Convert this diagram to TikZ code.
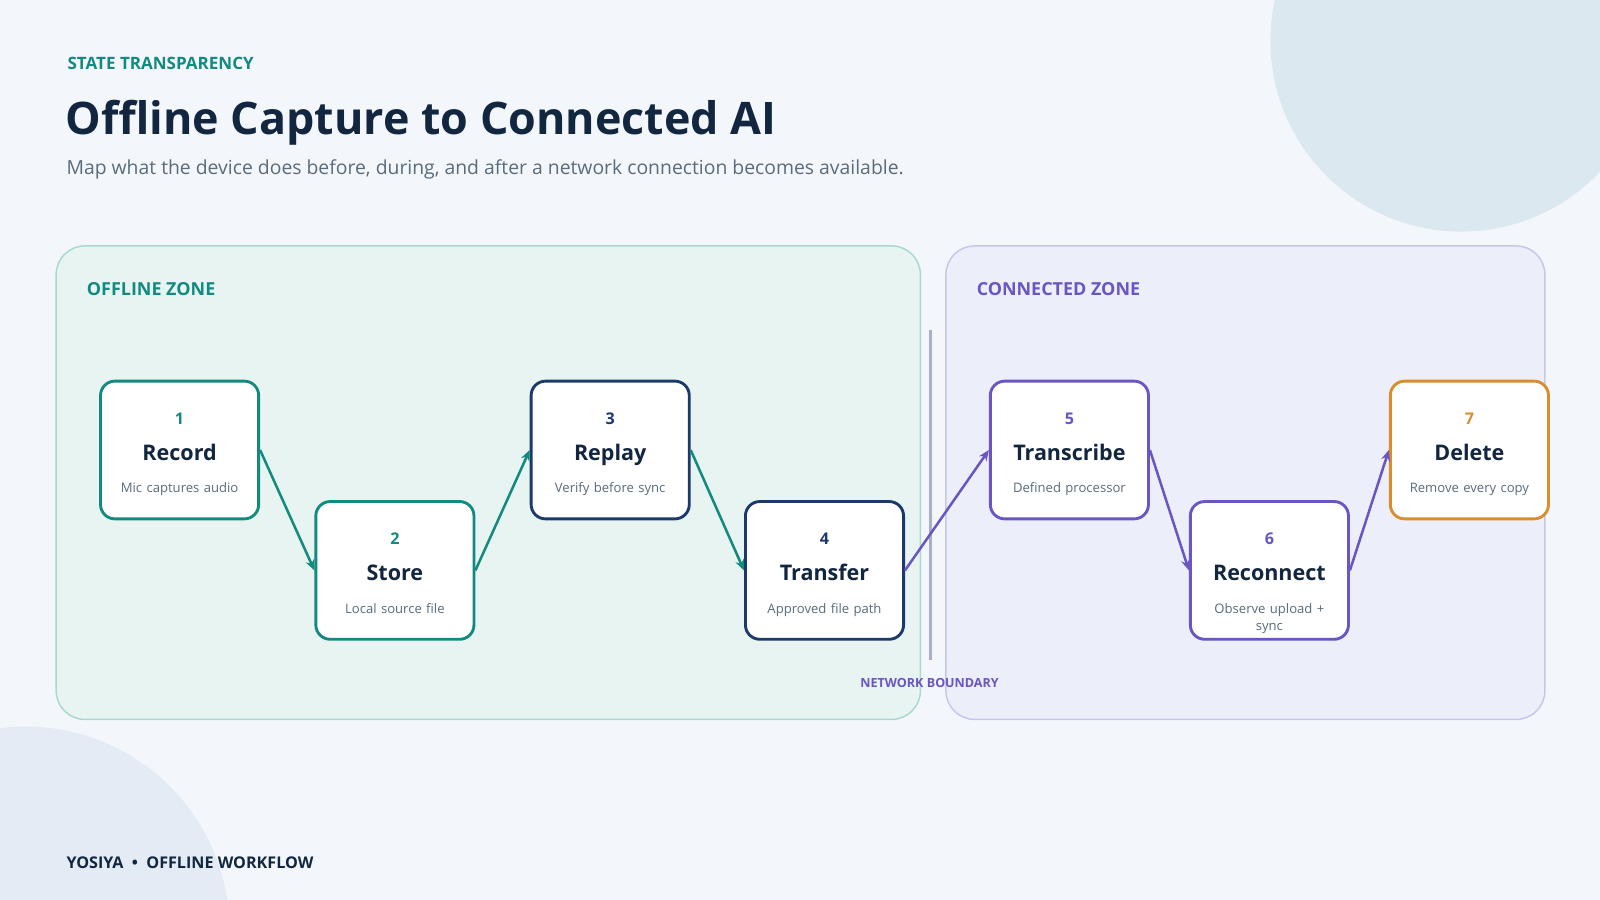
\documentclass[tikz,border=0pt]{standalone}
\usepackage{fontspec}
\setmainfont{Open Sans}
\usetikzlibrary{arrows.meta}
\definecolor{bg}{HTML}{F3F7FB}
\definecolor{teal}{HTML}{138A80}
\definecolor{navy}{HTML}{12263F}
\definecolor{nblue}{HTML}{1B3A6B}
\definecolor{purp}{HTML}{6A55C2}
\definecolor{orng}{HTML}{D98E2B}
\definecolor{grayt}{HTML}{5A6B7B}
\definecolor{circA}{HTML}{DCE8F0}
\definecolor{circB}{HTML}{E3ECF4}
\definecolor{offF}{HTML}{E8F4F1}
\definecolor{offD}{HTML}{A8D8D0}
\definecolor{conF}{HTML}{ECEFFA}
\definecolor{conD}{HTML}{C6C5EC}
\definecolor{bndry}{HTML}{A9AECB}
\begin{document}
\begin{tikzpicture}[x=0.02cm,y=-0.02cm,
 step/.style={draw=#1,line width=1.6pt,fill=white,rounded corners=8pt,minimum width=3.1cm,minimum height=2.7cm,inner sep=0pt},
 num/.style={font=\bfseries\fontsize{9}{10}\selectfont},
 ttl/.style={font=\bfseries\fontsize{12}{14}\selectfont,text=navy,anchor=base},
 sub/.style={font=\fontsize{7.3}{9.5}\selectfont,text=grayt,align=center,text width=2.7cm},
 arr/.style={draw=#1,line width=1.4pt,-{Stealth[length=6pt,width=5pt]}},
 zl/.style={font=\bfseries\fontsize{10}{12}\selectfont,anchor=west}]
\useasboundingbox (0,0) rectangle (1568,882);
\fill[bg] (0,0) rectangle (1568,882);
\begin{scope}
\clip (0,0) rectangle (1568,882);
\fill[circA] (1432,40) circle (187);
\fill[circB] (25,912) circle (200);
\end{scope}
\node[anchor=west,text=teal,font=\bfseries\fontsize{9.5}{12}\selectfont] (kick) at (60,62) {STATE TRANSPARENCY};
\node[anchor=west,text=navy,font=\bfseries\fontsize{25}{30}\selectfont] (title) at (58,120) {Offline Capture to Connected AI};
\node[anchor=west,text=grayt,font=\fontsize{10.8}{13}\selectfont] (subt) at (59,166) {Map what the device does before, during, and after a network connection becomes available.};
\draw[rounded corners=16pt,fill=offF,draw=offD,line width=0.8pt] (55,241) rectangle (902,705);
\draw[rounded corners=16pt,fill=conF,draw=conD,line width=0.8pt] (927,241) rectangle (1514,705);
\node[zl,text=teal] (oz) at (79,283) {OFFLINE ZONE};
\node[zl,text=purp] (cz) at (951,283) {CONNECTED ZONE};
\coordinate (b1) at (912,323); \coordinate (b2) at (912,647);
\draw[line width=1.5pt,draw=bndry] (b1) -- (b2);
\node[text=purp,font=\bfseries\fontsize{7}{9}\selectfont] (nb) at (911,669) {NETWORK BOUNDARY};
\newcommand\mystep[7]{%
 \node[step=#2] (#1) at (#3,#4) {};
 \node[num,text=#2] (#1n) at (#3,#4-31) {#5};
 \node[ttl] (#1t) at (#3,#4+10) {#6};
 \node[sub,anchor=north] (#1s) at (#3,#4+26) {#7};}
\mystep{s1}{teal}{176}{441}{1}{Record}{Mic captures audio}
\mystep{s2}{teal}{387}{559}{2}{Store}{Local source file}
\mystep{s3}{nblue}{598}{441}{3}{Replay}{Verify before sync}
\mystep{s4}{nblue}{808}{559}{4}{Transfer}{Approved file path}
\mystep{s5}{purp}{1048}{441}{5}{Transcribe}{Defined processor}
\mystep{s6}{purp}{1244}{559}{6}{Reconnect}{Observe upload +\\sync}
\mystep{s7}{orng}{1440}{441}{7}{Delete}{Remove every copy}
\draw[arr=teal] (s1.east) -- (s2.west);
\draw[arr=teal] (s2.east) -- (s3.west);
\draw[arr=teal] (s3.east) -- (s4.west);
\draw[arr=purp] (s4.east) -- (s5.west);
\draw[arr=purp] (s5.east) -- (s6.west);
\draw[arr=purp] (s6.east) -- (s7.west);
\node[anchor=west,text=navy,font=\bfseries\fontsize{9}{11}\selectfont] (foot) at (59,845) {YOSIYA \ \textbullet\ \ OFFLINE WORKFLOW};
\end{tikzpicture}
\end{document}
